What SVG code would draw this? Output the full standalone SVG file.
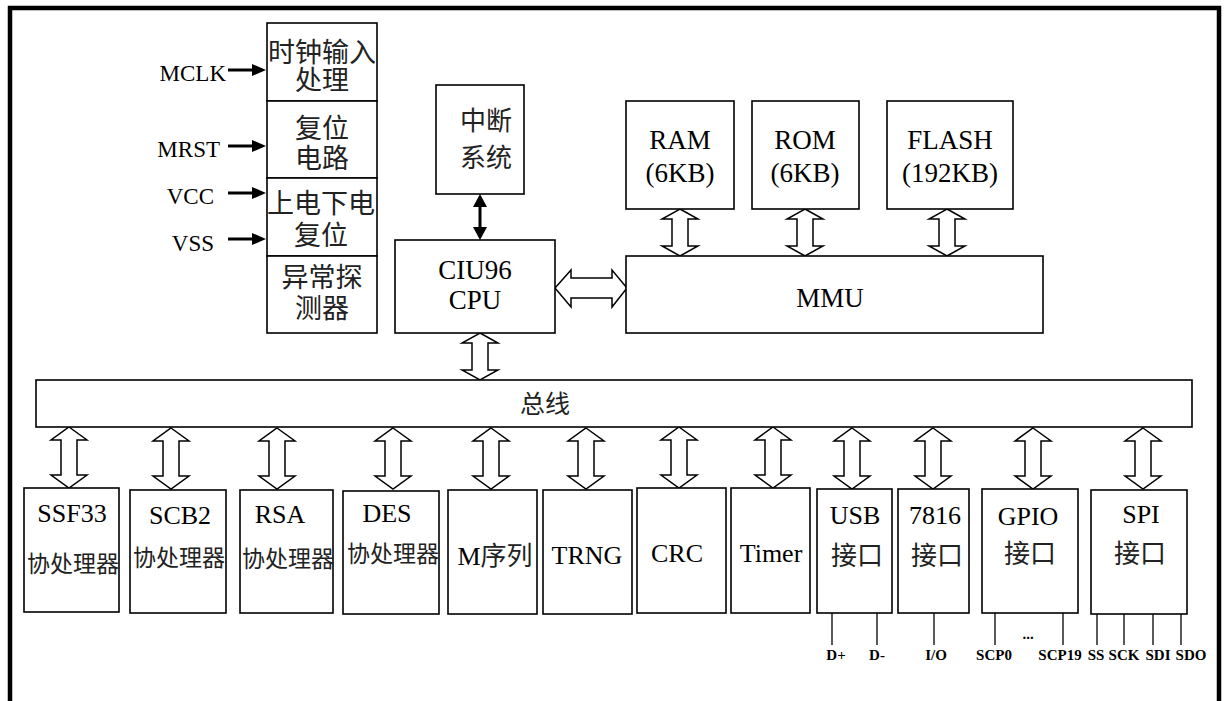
<svg xmlns="http://www.w3.org/2000/svg" xmlns:xlink="http://www.w3.org/1999/xlink" width="1224" height="701" viewBox="0 0 1224 701">
<style>
.box{fill:#fff;stroke:#000;stroke-width:1.6}
.lat{font-family:"Liberation Serif","Times New Roman",serif;fill:#000}
.cjk{font-family:"Noto Sans CJK SC","Noto Sans CJK JP",sans-serif;fill:#222}
.pin{font-family:"Liberation Serif","Times New Roman",serif;font-weight:bold;font-size:15px;fill:#000}
.ha{fill:#fff;stroke:#000;stroke-width:1.5;stroke-linejoin:miter}
.wire{stroke:#000;stroke-width:1.3;fill:none}
.sig{stroke:#000;stroke-width:3;fill:none}
</style>
<defs>
<path id="va47" d="M0,0 L18,10 L8,10 L8,37 L18,37 L0,47 L-18,37 L-8,37 L-8,10 L-18,10 Z"/>
<path id="va61" d="M0,0 L18,13 L8,13 L8,48 L18,48 L0,61 L-18,48 L-8,48 L-8,13 L-18,13 Z"/>
</defs>
<rect width="1224" height="701" fill="#fff"/>
<rect x="10" y="8" width="1209" height="730" fill="none" stroke="#000" stroke-width="4.5"/>

<g id="connectors">
  <!-- input signals -->
  <line class="sig" x1="228" y1="70" x2="255" y2="70"/>
  <polygon points="252,64 266,70 252,76"/>
  <line class="sig" x1="228" y1="146" x2="255" y2="146"/>
  <polygon points="252,140 266,146 252,152"/>
  <line class="sig" x1="228" y1="193" x2="255" y2="193"/>
  <polygon points="252,187 266,193 252,199"/>
  <line class="sig" x1="228" y1="239" x2="255" y2="239"/>
  <polygon points="252,233 266,239 252,245"/>
  <!-- interrupt <-> CPU -->
  <line class="sig" x1="480" y1="205" x2="480" y2="229"/>
  <polygon points="480,194 487,207 473,207"/>
  <polygon points="480,240 487,227 473,227"/>
  <!-- CPU <-> MMU -->
  <path class="ha" d="M555,288 L571,270 L571,278 L612,278 L612,270 L627,288 L612,307 L612,298 L571,298 L571,307 Z"/>
  <!-- memory <-> MMU -->
  <use xlink:href="#va47" class="ha" x="680" y="209"/>
  <use xlink:href="#va47" class="ha" x="805" y="209"/>
  <use xlink:href="#va47" class="ha" x="947" y="209"/>
  <!-- CPU <-> bus -->
  <use xlink:href="#va47" class="ha" x="480" y="333"/>
  <!-- bus <-> peripherals -->
  <use xlink:href="#va61" class="ha" x="69" y="427"/>
  <use xlink:href="#va61" class="ha" x="171" y="428"/>
  <use xlink:href="#va61" class="ha" x="277" y="428"/>
  <use xlink:href="#va61" class="ha" x="393" y="428"/>
  <use xlink:href="#va61" class="ha" x="491" y="428"/>
  <use xlink:href="#va61" class="ha" x="586" y="428"/>
  <use xlink:href="#va61" class="ha" x="679" y="427"/>
  <use xlink:href="#va61" class="ha" x="773" y="427"/>
  <use xlink:href="#va61" class="ha" x="852" y="428"/>
  <use xlink:href="#va61" class="ha" x="933" y="428"/>
  <use xlink:href="#va61" class="ha" x="1033" y="428"/>
  <use xlink:href="#va61" class="ha" x="1143" y="428"/>
  <!-- pins -->
  <line class="wire" x1="832" y1="613" x2="832" y2="645"/>
  <line class="wire" x1="877" y1="613" x2="877" y2="645"/>
  <line class="wire" x1="934" y1="613" x2="934" y2="645"/>
  <line class="wire" x1="995" y1="613" x2="995" y2="645"/>
  <line class="wire" x1="1063" y1="613" x2="1063" y2="645"/>
  <line class="wire" x1="1097" y1="614" x2="1097" y2="645"/>
  <line class="wire" x1="1124" y1="614" x2="1124" y2="645"/>
  <line class="wire" x1="1153" y1="614" x2="1153" y2="645"/>
  <line class="wire" x1="1181" y1="614" x2="1181" y2="645"/>
</g>

<g id="signals">
  <text class="lat" font-size="23" x="226" y="81" text-anchor="end">MCLK</text>
  <text class="lat" font-size="23" x="220" y="157" text-anchor="end">MRST</text>
  <text class="lat" font-size="23" x="214" y="204" text-anchor="end">VCC</text>
  <text class="lat" font-size="23" x="214" y="251" text-anchor="end">VSS</text>
</g>

<g id="clock">
  <rect class="box" x="267" y="23" width="110" height="78"/>
  <text class="cjk" font-size="27" x="322" y="62" text-anchor="middle">时钟输入</text>
  <text class="cjk" font-size="27" x="322" y="90" text-anchor="middle">处理</text>
</g>
<g id="reset">
  <rect class="box" x="267" y="101" width="110" height="77"/>
  <text class="cjk" font-size="27" x="322" y="138" text-anchor="middle">复位</text>
  <text class="cjk" font-size="27" x="322" y="168" text-anchor="middle">电路</text>
</g>
<g id="por">
  <rect class="box" x="267" y="178" width="110" height="78"/>
  <text class="cjk" font-size="27" x="321" y="213" text-anchor="middle">上电下电</text>
  <text class="cjk" font-size="27" x="321" y="245" text-anchor="middle">复位</text>
</g>
<g id="detector">
  <rect class="box" x="267" y="256" width="110" height="77"/>
  <text class="cjk" font-size="27" x="322" y="287" text-anchor="middle">异常探</text>
  <text class="cjk" font-size="27" x="322" y="318" text-anchor="middle">测器</text>
</g>

<g id="interrupt">
  <rect class="box" x="436" y="85" width="88" height="109"/>
  <text class="cjk" font-size="26" x="486" y="130" text-anchor="middle">中断</text>
  <text class="cjk" font-size="26" x="486" y="167" text-anchor="middle">系统</text>
</g>
<g id="cpu">
  <rect class="box" x="395" y="240" width="160" height="93"/>
  <text class="lat" font-size="27" x="475" y="279" text-anchor="middle">CIU96</text>
  <text class="lat" font-size="27" x="475" y="309" text-anchor="middle">CPU</text>
</g>
<g id="ram">
  <rect class="box" x="626" y="101" width="108" height="108"/>
  <text class="lat" font-size="27" x="680" y="149" text-anchor="middle">RAM</text>
  <text class="lat" font-size="27" x="680" y="182" text-anchor="middle">(6KB)</text>
</g>
<g id="rom">
  <rect class="box" x="752" y="101" width="107" height="108"/>
  <text class="lat" font-size="27" x="805" y="149" text-anchor="middle">ROM</text>
  <text class="lat" font-size="27" x="805" y="182" text-anchor="middle">(6KB)</text>
</g>
<g id="flash">
  <rect class="box" x="887" y="101" width="126" height="108"/>
  <text class="lat" font-size="27" x="950" y="149" text-anchor="middle">FLASH</text>
  <text class="lat" font-size="27" x="950" y="182" text-anchor="middle">(192KB)</text>
</g>
<g id="mmu">
  <rect class="box" x="626" y="256" width="417" height="77"/>
  <text class="lat" font-size="27" x="830" y="307" text-anchor="middle">MMU</text>
</g>
<g id="bus">
  <rect class="box" x="36" y="380" width="1156" height="47"/>
  <text class="cjk" font-size="25" x="545" y="413" text-anchor="middle">总线</text>
</g>

<g id="ssf33">
  <rect class="box" x="24" y="488" width="95" height="124"/>
  <text class="lat" font-size="26" x="72" y="522" text-anchor="middle">SSF33</text>
  <text class="cjk" font-size="23" x="73" y="572" text-anchor="middle">协处理器</text>
</g>
<g id="scb2">
  <rect class="box" x="130" y="490" width="96" height="123"/>
  <text class="lat" font-size="26" x="180" y="524" text-anchor="middle">SCB2</text>
  <text class="cjk" font-size="23" x="179" y="566" text-anchor="middle">协处理器</text>
</g>
<g id="rsa">
  <rect class="box" x="240" y="490" width="93" height="123"/>
  <text class="lat" font-size="26" x="280" y="523" text-anchor="middle">RSA</text>
  <text class="cjk" font-size="23" x="288" y="567" text-anchor="middle">协处理器</text>
</g>
<g id="des">
  <rect class="box" x="343" y="491" width="96" height="123"/>
  <text class="lat" font-size="26" x="387" y="522" text-anchor="middle">DES</text>
  <text class="cjk" font-size="23" x="393" y="562" text-anchor="middle">协处理器</text>
</g>
<g id="mseq">
  <rect class="box" x="448" y="490" width="89" height="124"/>
  <text class="cjk" font-size="26" x="495" y="565" text-anchor="middle"><tspan class="lat">M</tspan>序列</text>
</g>
<g id="trng">
  <rect class="box" x="543" y="490" width="89" height="124"/>
  <text class="lat" font-size="26" x="587" y="564" text-anchor="middle">TRNG</text>
</g>
<g id="crc">
  <rect class="box" x="637" y="488" width="89" height="125"/>
  <text class="lat" font-size="26" x="677" y="562" text-anchor="middle">CRC</text>
</g>
<g id="timer">
  <rect class="box" x="731" y="488" width="79" height="125"/>
  <text class="lat" font-size="26" x="771" y="562" text-anchor="middle">Timer</text>
</g>
<g id="usb">
  <rect class="box" x="817" y="489" width="75" height="124"/>
  <text class="lat" font-size="26" x="855" y="524" text-anchor="middle">USB</text>
  <text class="cjk" font-size="26" x="857" y="565" text-anchor="middle">接口</text>
</g>
<g id="iso7816">
  <rect class="box" x="898" y="489" width="71" height="124"/>
  <text class="lat" font-size="26" x="935" y="524" text-anchor="middle">7816</text>
  <text class="cjk" font-size="26" x="937" y="565" text-anchor="middle">接口</text>
</g>
<g id="gpio">
  <rect class="box" x="982" y="489" width="96" height="124"/>
  <text class="lat" font-size="26" x="1028" y="525" text-anchor="middle">GPIO</text>
  <text class="cjk" font-size="26" x="1030" y="563" text-anchor="middle">接口</text>
</g>
<g id="spi">
  <rect class="box" x="1091" y="490" width="96" height="124"/>
  <text class="lat" font-size="26" x="1141" y="523" text-anchor="middle">SPI</text>
  <text class="cjk" font-size="26" x="1140" y="563" text-anchor="middle">接口</text>
</g>

<g id="pins">
  <text class="pin" x="836" y="660" text-anchor="middle">D+</text>
  <text class="pin" x="877" y="660" text-anchor="middle">D-</text>
  <text class="pin" x="936" y="660" text-anchor="middle">I/O</text>
  <text class="pin" x="994" y="660" text-anchor="middle">SCP0</text>
  <text class="pin" x="1028" y="639" text-anchor="middle">...</text>
  <text class="pin" x="1060" y="660" text-anchor="middle">SCP19</text>
  <text class="pin" x="1096" y="660" text-anchor="middle">SS</text>
  <text class="pin" x="1124" y="660" text-anchor="middle">SCK</text>
  <text class="pin" x="1158" y="660" text-anchor="middle">SDI</text>
  <text class="pin" x="1191" y="660" text-anchor="middle">SDO</text>
</g>
</svg>
